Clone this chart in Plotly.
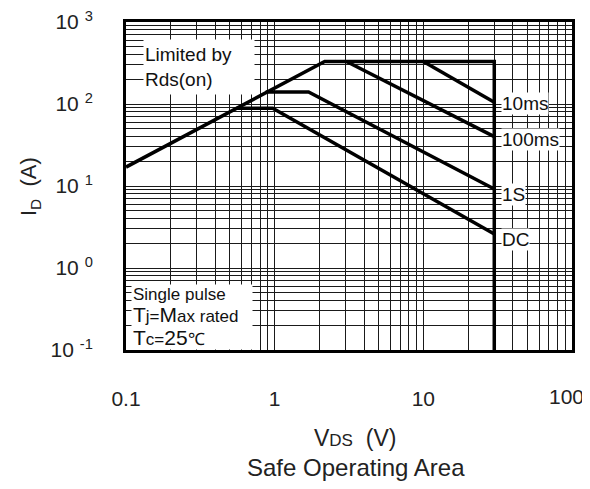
import plotly.graph_objects as go

# ---- data ----
rds_v = [0.1, 2.17, 30, 30]
rds_i = [17, 330, 330, 0.1]

ms10_v = [10, 30]
ms10_i = [330, 105]

ms100_v = [3.04, 30]
ms100_i = [330, 40]

s1_v = [0.87, 1.69, 30]
s1_i = [140, 140, 9.2]

dc_v = [0.556, 0.97, 30]
dc_i = [89, 89, 2.6]

x_decades = [0.1, 1, 10, 100]
x_tick_labels = ["0.1", "1", "10", "100"]
y_decades = [0.1, 1, 10, 100, 1000]
y_tick_labels = ["10 <sup>-1</sup>", "10 <sup>0</sup>", "10 <sup>1</sup>", "10 <sup>2</sup>", "10 <sup>3</sup>"]

# minor grid positions (2..9 per decade)
def minor_vals(decades):
    vals = []
    for d in decades[:-1]:
        for k in range(2, 10):
            vals.append(round(d * k, 6))
    return vals

FONT = "Liberation Sans, Arial, sans-serif"
LW = 3.5
GRID = "#1a1a1a"
TXT = "#222"

fig = go.Figure()
for vx, iy in [(rds_v, rds_i), (ms10_v, ms10_i), (ms100_v, ms100_i), (s1_v, s1_i), (dc_v, dc_i)]:
    fig.add_trace(go.Scatter(x=vx, y=iy, mode="lines",
                             line=dict(color="black", width=LW),
                             showlegend=False, hoverinfo="skip"))

# the last x label (100) sits at the window edge; it is drawn as an annotation
# nudged slightly left so it is not cut off
fig.update_xaxes(type="log", range=[-1, 2], tickmode="array",
                 tickvals=x_decades[:-1], ticktext=x_tick_labels[:-1],
                 showgrid=True, gridcolor=GRID, gridwidth=1,
                 minor=dict(tickmode="array", tickvals=minor_vals(x_decades),
                            showgrid=True, gridcolor=GRID, gridwidth=1, ticks=""),
                 showline=True, linecolor="black", linewidth=3, mirror=True,
                 ticks="", ticklabelstandoff=28, zeroline=False, automargin=False,
                 ticklabeloverflow="allow",
                 tickfont=dict(size=21, color=TXT, family=FONT))
fig.update_yaxes(type="log", range=[-1, 3], tickmode="array",
                 tickvals=y_decades, ticktext=y_tick_labels,
                 showgrid=True, gridcolor=GRID, gridwidth=1,
                 minor=dict(tickmode="array", tickvals=minor_vals(y_decades),
                            showgrid=True, gridcolor=GRID, gridwidth=1, ticks=""),
                 showline=True, linecolor="black", linewidth=3, mirror=True,
                 ticks="", ticklabelstandoff=26, zeroline=False, automargin=False,
                 ticklabeloverflow="allow",
                 tickfont=dict(size=21, color=TXT, family=FONT))

ann = []
ann.append(dict(text=x_tick_labels[-1], xref="paper", yref="paper", x=0.988, y=-0.143,
                xanchor="center", yanchor="middle", showarrow=False,
                font=dict(size=21, color=TXT, family=FONT)))
# curve labels
for txt, yp in [("10ms", 0.753), ("100ms", 0.643), ("1S", 0.473), ("DC", 0.338)]:
    ann.append(dict(text=txt, xref="paper", yref="paper", x=0.84, y=yp,
                    xanchor="left", yanchor="middle", showarrow=False,
                    bgcolor="white", borderpad=0,
                    font=dict(size=19, color="#111", family=FONT)))

ann.append(dict(text="Limited by<br>Rds(on)", xref="paper", yref="paper",
                x=0.038, y=0.948, xanchor="left", yanchor="top", showarrow=False,
                bgcolor="white", width=108, height=52, align="left", valign="middle",
                font=dict(size=19, color="#111", family=FONT)))
ann.append(dict(text="Single pulse<br><span style='font-size:21px'>T</span>j=<span style='font-size:21px'>M</span>ax rated<br><span style='font-size:21px'>T</span>c=<span style='font-size:21px'>25</span>℃",
                xref="paper", yref="paper",
                x=0.012, y=0.2, xanchor="left", yanchor="top", showarrow=False,
                bgcolor="white", width=118, height=62, align="left", valign="middle",
                font=dict(size=17, color="#111", family=FONT)))

# axis titles
ann.append(dict(text="I<sub>D</sub>&nbsp;&nbsp;(A)", xref="paper", yref="paper",
                x=-0.215, y=0.497, textangle=-90, showarrow=False,
                xanchor="center", yanchor="middle",
                font=dict(size=22, color=TXT, family=FONT)))
ann.append(dict(text="V<span style='font-size:17px'>DS</span>&nbsp;&nbsp;(V)", xref="paper", yref="paper",
                x=0.514, y=-0.268, showarrow=False, xanchor="center", yanchor="middle",
                font=dict(size=23, color=TXT, family=FONT)))
ann.append(dict(text="Safe Operating Area", xref="paper", yref="paper",
                x=0.516, y=-0.357, showarrow=False, xanchor="center", yanchor="middle",
                font=dict(size=24, color=TXT, family=FONT)))

fig.update_layout(width=582, height=481, margin=dict(l=118, r=18, t=14, b=139),
                  plot_bgcolor="white", paper_bgcolor="white", annotations=ann)

fig.write_html("out.html")
